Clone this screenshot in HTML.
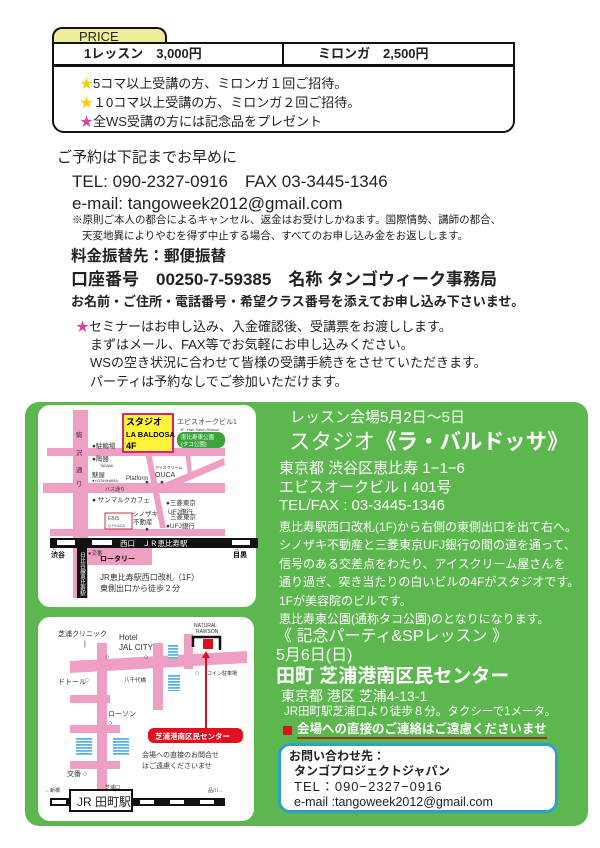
<!DOCTYPE html>
<html><head><meta charset="utf-8"><style>
*{margin:0;padding:0;box-sizing:border-box}
body{width:600px;height:848px;background:#fff;position:relative;overflow:hidden;font-family:"Liberation Sans","Noto Sans CJK JP",sans-serif;color:#222}
.a{position:absolute;white-space:nowrap;line-height:1}
.g{color:#fff}
</style></head><body>
<div class="a" style="left:52px;top:27px;width:115px;height:16px;background:#eeee9a;border:2px solid #111;border-bottom:none;border-radius:10px 10px 0 0;font-size:13px;padding:1px 0 0 25px">PRICE</div>
<div class="a" style="left:52px;top:42px;width:463px;height:91px;border:2.5px solid #111;border-radius:0 0 12px 12px"></div>
<div class="a" style="left:52px;top:64px;width:463px;height:2.5px;background:#111"></div>
<div class="a" style="left:282px;top:42px;width:2px;height:23px;background:#111"></div>
<div class="a" style="left:84px;top:47px;font-size:13px;font-weight:bold">1レッスン　3,000円</div>
<div class="a" style="left:318px;top:47px;font-size:13px;font-weight:bold">ミロンガ　2,500円</div>
<div class="a" style="left:80px;top:77px;font-size:13px"><span style="color:#f0d000">★</span>5コマ以上受講の方、ミロンガ１回ご招待。</div>
<div class="a" style="left:80px;top:96px;font-size:13px"><span style="color:#f0d000">★</span>１0コマ以上受講の方、ミロンガ２回ご招待。</div>
<div class="a" style="left:80px;top:115px;font-size:13px"><span style="color:#e0409a">★</span>全WS受講の方には記念品をプレゼント</div>

<div class="a" style="left:57px;top:150px;font-size:15px">ご予約は下記までお早めに</div>
<div class="a" style="left:72px;top:173px;font-size:17px">TEL: 090-2327-0916　FAX 03-3445-1346</div>
<div class="a" style="left:72px;top:195px;font-size:17px">e-mail: tangoweek2012@gmail.com</div>
<div class="a" style="left:72px;top:215px;font-size:10.5px">※原則ご本人の都合によるキャンセル、返金はお受けしかねます。国際情勢、講師の都合、</div>
<div class="a" style="left:82px;top:231px;font-size:10.5px">天変地異によりやむを得ず中止する場合、すべてのお申し込み金をお返しします。</div>
<div class="a" style="left:71px;top:249px;font-size:15.5px;font-weight:bold">料金振替先：郵便振替</div>
<div class="a" style="left:71px;top:271px;font-size:17px;font-weight:bold">口座番号　00250-7-59385　名称 タンゴウィーク事務局</div>
<div class="a" style="left:71px;top:295px;font-size:13px;font-weight:bold">お名前・ご住所・電話番号・希望クラス番号を添えてお申し込み下さいませ。</div>
<div class="a" style="left:76px;top:320px;font-size:13px"><span style="color:#e0409a">★</span>セミナーはお申し込み、入金確認後、受講票をお渡しします。</div>
<div class="a" style="left:90px;top:338px;font-size:13px">まずはメール、FAX等でお気軽にお申し込みください。</div>
<div class="a" style="left:90px;top:356px;font-size:13px">WSの空き状況に合わせて皆様の受講手続きをさせていただきます。</div>
<div class="a" style="left:90px;top:375px;font-size:13px">パーティは予約なしでご参加いただけます。</div>

<div class="a" style="left:25px;top:402px;width:563px;height:424px;background:#5cb84e;border-radius:14px"></div>
<div class="a" style="left:38px;top:405px;width:218px;height:202px;background:#fff;border-radius:12px"></div>
<div class="a" style="left:38px;top:617px;width:216px;height:204px;background:#fff;border-radius:12px"></div>

<svg class="a" style="left:0;top:0" width="600" height="848" font-family="Liberation Sans,Noto Sans CJK JP,sans-serif">
<defs><pattern id="st" width="4" height="3" patternUnits="userSpaceOnUse"><rect width="4" height="3" fill="#fff"/><rect width="4" height="1.8" fill="#58b4e8"/></pattern></defs>
<g fill="#ef9fc4">
<rect x="73" y="410" width="15" height="188"/>
<rect x="47" y="448" width="178" height="8"/>
<rect x="43" y="483" width="182" height="10"/>
<rect x="50" y="529" width="175" height="7"/>
<rect x="88" y="548" width="64" height="17"/>
<polygon points="145,452 151,452 166,528 160,528"/>
<polygon points="185,452 190,452 192,475 188,475"/>
<polygon points="160,485 224,458 225,465 162,492"/>
</g>
<rect x="123" y="414" width="50" height="38" fill="#fff33a" stroke="#d8247e" stroke-width="2"/>
<text x="126" y="425" font-size="9" font-weight="bold">スタジオ</text>
<text x="126" y="437" font-size="7.5" font-weight="bold">LA BALDOSA</text>
<text x="126" y="449" font-size="9" font-weight="bold">4F</text>
<text x="177" y="424" font-size="7" fill="#444">エビスオークビル1</text>
<text x="180" y="431" font-size="4" fill="#444">1F: Hair Salon Stanos</text>
<rect x="177" y="432" width="48" height="16" rx="7" fill="#3ba33b"/>
<text x="181" y="439" font-size="5.5" fill="#fff">恵比寿東公園</text><text x="181" y="446" font-size="5.5" fill="#fff">(タコ公園)</text>
<g font-size="6.5" fill="#333">
<text x="76" y="437">駒</text><text x="76" y="455">沢</text><text x="76" y="472">通</text><text x="76" y="486">り</text>
<text x="92" y="448">●駐輪場</text><text x="92" y="461">●陶器</text><text x="100" y="467" font-size="3.5">TADAMI</text>
<text x="92" y="477">魅屋</text><text x="92" y="482" font-size="4">●YOSHIHARA</text>
<text x="126" y="480" font-size="6">Platform</text><text x="145" y="484">●</text>
<text x="155" y="469" font-size="4">アイスクリーム</text><text x="155" y="477" font-size="7">OUCA</text><text x="160" y="484">●</text>
<text x="105" y="491" font-size="5">バス通り</text>
<text x="92" y="502">● サンマルクカフェ</text>
<text x="166" y="505">●三菱東京</text><text x="168" y="514">UFJ銀行</text>
<text x="132" y="516">シノザキ</text><text x="133" y="524">不動産</text><text x="145" y="531">●</text>
<text x="170" y="519">三菱東京</text><text x="166" y="528">●UFJ銀行</text>
</g>
<rect x="105" y="513" width="27" height="16" fill="#fff" stroke="#c8303a" stroke-width="1"/>
<text x="108" y="520" font-size="5" fill="#555">EBIS</text><text x="108" y="527" font-size="4" fill="#555">Q PLAZA</text>
<rect x="50" y="538" width="208" height="10" fill="#111"/>
<rect x="57" y="540" width="18" height="5" fill="#fff"/><rect x="92" y="540" width="20" height="5" fill="#fff"/><rect x="232" y="540" width="18" height="5" fill="#fff"/>
<text x="120" y="546" font-size="7.5" fill="#fff">西口　ＪＲ恵比寿駅</text>
<rect x="77" y="547" width="10" height="51" fill="#111"/>
<text x="82" y="552" font-size="5.5" fill="#fff" writing-mode="tb">日比谷線恵比寿駅</text>
<text x="88" y="555" font-size="5.5" fill="#333">●交番</text>
<text x="100" y="561" font-size="7" font-weight="bold">ロータリー</text>
<text x="51" y="557" font-size="7" font-weight="bold">渋谷</text><text x="52" y="550" font-size="6">←</text>
<text x="233" y="557" font-size="7" font-weight="bold">目黒</text><text x="234" y="550" font-size="6">→</text>
<text x="100" y="580" font-size="8" fill="#333">JR恵比寿駅西口改札（1F）</text>
<text x="100" y="591" font-size="8" fill="#333">東側出口から徒歩２分</text>

<g fill="#ef9fc4">
<rect x="97" y="643" width="10" height="147"/>
<polygon points="70,661 247,651 247,663 70,673"/>
<rect x="153" y="643" width="10" height="67"/>
<rect x="184" y="634" width="9" height="35"/>
<rect x="70" y="695" width="40" height="8"/>
<rect x="70" y="725" width="50" height="8"/>
<rect x="70" y="761" width="50" height="8"/>
</g>
<g fill="url(#st)"><rect x="168" y="645" width="10" height="14"/><rect x="168" y="675" width="12" height="16"/><rect x="76" y="737" width="16" height="18"/><rect x="113" y="737" width="16" height="18"/></g>
<polyline points="193,647 193,637 220,637 220,650" fill="none" stroke="#111" stroke-width="2.5"/>
<rect x="203" y="639" width="10" height="10" fill="#e01020"/>
<line x1="206" y1="730" x2="206" y2="656" stroke="#e01020" stroke-width="2"/>
<polygon points="202,658 206,651 210,658" fill="#e01020"/>
<rect x="148" y="728" width="95" height="15" rx="6" fill="#e01020"/>
<text x="155" y="739" font-size="7.5" font-weight="bold" fill="#fff">芝浦港南区民センター</text>
<g font-size="7" fill="#333">
<text x="58" y="636">芝浦クリニック</text><text x="84" y="646">|</text><text x="105" y="659">○</text>
<text x="119" y="640" font-size="8">Hotel</text><text x="119" y="650" font-size="8">JAL CITY</text><text x="144" y="659">○</text>
<text x="194" y="627" font-size="5">NATURAL</text><text x="196" y="633" font-size="5">RAWSON</text>
<text x="58" y="684">ドトール</text><text x="85" y="682">○</text>
<text x="124" y="682" font-size="5.5">八千代橋</text>
<text x="195" y="675">○</text><text x="207" y="675" font-size="5">コイン駐車場</text>
<text x="108" y="716">ローソン</text><text x="108" y="725">○</text>
<text x="67" y="776">交番 ○</text>
<text x="142" y="757">会場への直接のお問合せ</text><text x="142" y="768">はご遠慮くださいませ</text>
<text x="105" y="789" font-size="5">芝浦口</text>
<text x="45" y="792" font-size="5">←新橋</text><text x="208" y="792" font-size="5">品川→</text>
</g>
<rect x="50" y="798" width="175" height="8" fill="#111"/>
<g fill="#fff"><rect x="52" y="800" width="14" height="4"/><rect x="140" y="800" width="14" height="4"/><rect x="170" y="800" width="14" height="4"/><rect x="200" y="800" width="14" height="4"/></g>
<rect x="70" y="790" width="62" height="21" fill="#fff" stroke="#111" stroke-width="2"/>
<text x="77" y="806" font-size="12" fill="#222">JR 田町駅</text>
</svg>

<div class="a g" style="left:290px;top:410px;font-size:15px">レッスン会場5月2日〜5日</div>
<div class="a g" style="left:289px;top:432px;font-size:21.5px">スタジオ<b>《ラ・バルドッサ》</b></div>
<div class="a g" style="left:279px;top:461px;font-size:15px">東京都 渋谷区恵比寿 1−1−6</div>
<div class="a g" style="left:279px;top:480px;font-size:15px">エビスオークビル I 401号</div>
<div class="a g" style="left:279px;top:498px;font-size:15px">TEL/FAX : 03-3445-1346</div>
<div class="a g" style="left:279px;top:518px;font-size:12px;line-height:18.4px">恵比寿駅西口改札(1F)から右側の東側出口を出て右へ。<br>シノザキ不動産と三菱東京UFJ銀行の間の道を通って、<br>信号のある交差点をわたり、アイスクリーム屋さんを<br>通り過ぎ、突き当たりの白いビルの4Fがスタジオです。<br>1Fが美容院のビルです。<br>恵比寿東公園(通称タコ公園)のとなりになります。</div>

<div class="a g" style="left:276px;top:629px;font-size:16px">《 記念パーティ&amp;SPレッスン 》</div>
<div class="a g" style="left:276px;top:648px;font-size:16px">5月6日(日)</div>
<div class="a g" style="left:276px;top:667px;font-size:19px;font-weight:bold">田町 芝浦港南区民センター</div>
<div class="a g" style="left:281px;top:689px;font-size:14px">東京都 港区 芝浦4-13-1</div>
<div class="a g" style="left:284px;top:707px;font-size:11.5px">JR田町駅芝浦口より徒歩８分。タクシーで1メータ。</div>
<div class="a" style="left:283px;top:726px;width:9px;height:9px;background:#e01020"></div>
<div class="a g" style="left:297px;top:723px;font-size:12.5px;font-weight:bold;border-bottom:2px solid #8a3a2a;padding-bottom:1px">会場への直接のご連絡はご遠慮くださいませ</div>
<div class="a" style="left:278px;top:743px;width:280px;height:70px;background:#fff;border:3px solid #2aa0d0;border-radius:12px"></div>
<div class="a" style="left:289px;top:750px;font-size:12px;font-weight:bold">お問い合わせ先：</div>
<div class="a" style="left:294px;top:765px;font-size:12px;font-weight:bold">タンゴプロジェクトジャパン</div>
<div class="a" style="left:294px;top:780px;font-size:13px;letter-spacing:1px">TEL：090−2327−0916</div>
<div class="a" style="left:294px;top:796px;font-size:12.5px">e-mail :tangoweek2012@gmail.com</div>
</body></html>
